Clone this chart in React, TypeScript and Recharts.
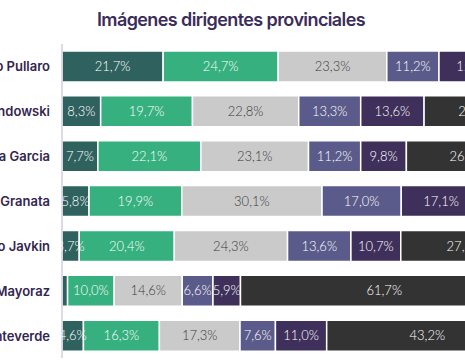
import type { ReactElement } from 'react';
import { Bar, BarChart, LabelList, XAxis, YAxis } from 'recharts';

const names = [
  'Maximiliano Pullaro',
  'Marcelo Lewandowski',
  'Clara Garcia',
  'Amalia Granata',
  'Pablo Javkin',
  'Nicolás Mayoraz',
  'Juan Monteverde',
];

// one array per answer, same order as names
const muyPositiva = [21.7, 8.3, 7.7, 5.8, 3.7, 1.2, 4.6];
const positiva = [24.7, 19.7, 22.1, 19.9, 20.4, 10.0, 16.3];
const regular = [23.3, 22.8, 23.1, 30.1, 24.3, 14.6, 17.3];
const negativa = [11.2, 13.3, 11.2, 17.0, 13.6, 6.6, 7.6];
const muyNegativa = [15.0, 13.6, 9.8, 17.1, 10.7, 5.9, 11.0];
const noConoce = [4.1, 22.3, 26.1, 10.1, 27.3, 61.7, 43.2];

const series = [
  { key: 'muyPositiva', values: muyPositiva, color: '#2f625f', text: '#ffffff' },
  { key: 'positiva', values: positiva, color: '#36b07e', text: '#ffffff' },
  { key: 'regular', values: regular, color: '#cacaca', text: '#3a3a3a' },
  { key: 'negativa', values: negativa, color: '#5b5b8b', text: '#ffffff' },
  { key: 'muyNegativa', values: muyNegativa, color: '#3f2f5b', text: '#ffffff' },
  { key: 'noConoce', values: noConoce, color: '#333333', text: '#ffffff' },
];

const data = names.map((name, i) => {
  const row: Record<string, string | number> = { name };
  series.forEach((s) => {
    row[s.key] = s.values[i];
  });
  return row;
});

const fmt = (v: unknown) => {
  const n = Number(v);
  if (n < 2) return '';
  return n.toFixed(1).replace('.', ',') + '%';
};

// single-line tick, the default one wraps long names
function NameTick(props: any) {
  const { x, y, payload } = props;
  return (
    <text
      x={x - 1}
      y={y}
      dy={5}
      textAnchor="end"
      fill="#34264f"
      fontSize={13}
      fontWeight={600}
      fontFamily="Inter, sans-serif"
    >
      {payload.value}
    </text>
  );
}

export default function App(): ReactElement {
  return (
    <div
      style={{
        position: 'absolute',
        left: 0,
        top: 0,
        width: 465,
        height: 364,
        overflow: 'hidden',
        background: '#fff',
        fontFamily: 'Inter, sans-serif',
      }}
    >
      <div
        style={{
          position: 'absolute',
          left: 0,
          top: 9,
          width: 462,
          textAlign: 'center',
          fontSize: 18,
          lineHeight: '22px',
          fontWeight: 600,
          letterSpacing: -0.6,
          color: '#3b2d5a',
        }}
      >
        Imágenes dirigentes provinciales
      </div>
      <BarChart
        width={528}
        height={364}
        data={data}
        layout="vertical"
        barSize={31}
        margin={{ top: 44, right: 0, bottom: 6, left: 0 }}
        style={{ position: 'absolute', left: 0, top: 0 }}
      >
        <XAxis type="number" domain={[0, 100]} hide />
        <YAxis
          type="category"
          dataKey="name"
          width={62}
          tickLine={false}
          tickSize={0}
          tickMargin={11}
          axisLine={{ stroke: '#d3cfe2', strokeWidth: 1.5 }}
          tick={<NameTick />}
        />
        {series.map((s) => (
          <Bar
            key={s.key}
            dataKey={s.key}
            stackId="a"
            fill={s.color}
            stroke="#ffffff"
            strokeWidth={1.5}
            isAnimationActive={false}
          >
            <LabelList
              dataKey={s.key}
              position="center"
              formatter={fmt}
              fill={s.text}
              fontSize={13}
              fontWeight={300}
              fontFamily="Lato, sans-serif"
            />
          </Bar>
        ))}
      </BarChart>
    </div>
  );
}
